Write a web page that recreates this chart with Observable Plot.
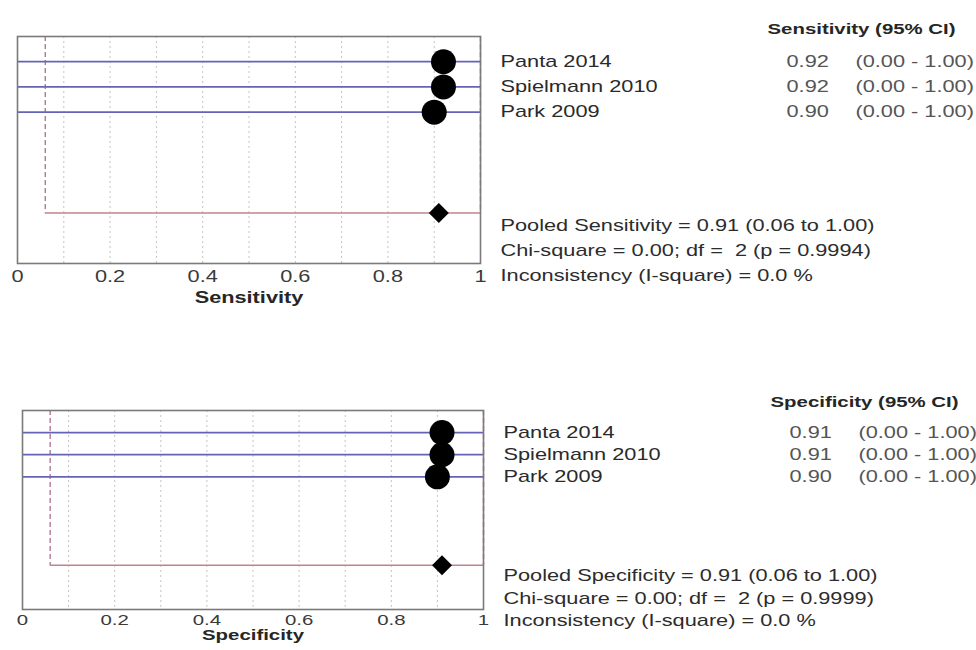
<!DOCTYPE html>
<html>
<head>
<meta charset="utf-8">
<script src="https://cdn.jsdelivr.net/npm/d3@7"></script>
<script src="https://cdn.jsdelivr.net/npm/@observablehq/plot@0.6"></script>
<style>
  html, body { margin: 0; padding: 0; background: #fff; }
  body { width: 976px; height: 650px; overflow: hidden; }
  #chart svg { display: block; }
  #chart svg text { white-space: pre; }
</style>
</head>
<body>
<div id="chart"></div>
<script>
// ---- data ----
const studies = ["Panta 2014", "Spielmann 2010", "Park 2009"];
const sensitivity = [0.92, 0.92, 0.90];
const sensitivityLow = [0.00, 0.00, 0.00];
const sensitivityHigh = [1.00, 1.00, 1.00];
const specificity = [0.91, 0.91, 0.90];
const specificityLow = [0.00, 0.00, 0.00];
const specificityHigh = [1.00, 1.00, 1.00];
// pooled: estimate, lower, upper
const pooledSensitivity = [0.91, 0.06, 1.00];
const pooledSpecificity = [0.91, 0.06, 1.00];
const sensitivityStats = [
  "Pooled Sensitivity = 0.91 (0.06 to 1.00)",
  "Chi-square = 0.00; df =  2 (p = 0.9994)",
  "Inconsistency (I-square) = 0.0 %"
];
const specificityStats = [
  "Pooled Specificity = 0.91 (0.06 to 1.00)",
  "Chi-square = 0.00; df =  2 (p = 0.9999)",
  "Inconsistency (I-square) = 0.0 %"
];
const xTicks = [0, 0.2, 0.4, 0.6, 0.8, 1];

const TEXT_STRETCH = 1.36;

function panel({est, lo, hi, pooled, stats, header, axisLabel, height, marginTop, marginBottom, marginLeft, marginRight, labelDy, headerDy, axisFont, tickPadding}) {
  const rows = studies.map((s, i) => ({study: s, est: est[i], lo: lo[i], hi: hi[i], row: i + 1}));
  const pooledRow = studies.length + 4;
  const p = {est: pooled[0], lo: pooled[1], hi: pooled[2], row: pooledRow};
  const statRows = stats.map((t, i) => ({text: t, row: pooledRow + 0.5 + i}));
  const yMax = pooledRow + 2;
  const grid = d3.ticks(0, 1, 10).filter(v => v > 0 && v < 1);

  const svg = Plot.plot({
    width: 976,
    height,
    marginTop, marginBottom, marginLeft, marginRight,
    style: {fontFamily: "'Liberation Sans', Arial, sans-serif", fontSize: axisFont + "px", color: "#3a3a3a", background: "#fff", overflow: "visible"},
    x: {domain: [0, 1], ticks: xTicks, tickFormat: d => String(d), tickSize: 0, tickPadding, label: null},
    y: {domain: [0, yMax], reverse: true, axis: null},
    marks: [
      Plot.ruleX(grid, {stroke: "#c4c4c4", strokeWidth: 1, strokeDasharray: "2,3"}),
      Plot.ruleX([p.lo, p.hi], {y1: 0, y2: pooledRow, stroke: "#b07898", strokeWidth: 1.4, strokeDasharray: "5,3"}),
      Plot.ruleY([p], {y: "row", x1: "lo", x2: "hi", stroke: "#c0848c", strokeWidth: 1.5}),
      Plot.ruleY(rows, {y: "row", x1: "lo", x2: "hi", stroke: "#6464b4", strokeWidth: 1.7}),
      Plot.dot(rows, {x: "est", y: "row", r: 12.5, fill: "#000", stroke: "none"}),
      Plot.dot([p], {x: "est", y: "row", r: 9, symbol: "diamond2", fill: "#000", stroke: "none"}),
      Plot.frame({stroke: "#7a7a7a", strokeWidth: 1.6}),
      Plot.text(rows, {y: "row", text: "study", frameAnchor: "right", dx: 20, textAnchor: "start", fontSize: 16, fill: "#2a2a2a"}),
      Plot.text(rows, {y: "row", text: d => d.est.toFixed(2), frameAnchor: "right", dx: 306, textAnchor: "start", fontSize: 16, fill: "#555"}),
      Plot.text(rows, {y: "row", text: d => `(${d.lo.toFixed(2)} - ${d.hi.toFixed(2)})`, frameAnchor: "right", dx: 375, textAnchor: "start", fontSize: 16, fill: "#555"}),
      Plot.text([header], {frameAnchor: "top-right", dx: 287, dy: headerDy, textAnchor: "start", fontWeight: "bold", fontSize: 15, fill: "#262626"}),
      Plot.text(statRows, {y: "row", text: "text", frameAnchor: "right", dx: 20, textAnchor: "start", fontSize: 16, fill: "#2c2c2c"}),
      Plot.text([axisLabel], {frameAnchor: "bottom", dy: labelDy, fontWeight: "bold", fontSize: axisFont, fill: "#262626"})
    ]
  });

  svg.querySelectorAll("text").forEach(t => {
    const tr = t.getAttribute("transform") || "";
    if (tr.includes("rotate")) return;
    t.setAttribute("transform", (tr + ` scale(${TEXT_STRETCH},1)`).trim());
  });
  return svg;
}

const chart = document.getElementById("chart");
chart.appendChild(panel({
  est: sensitivity, lo: sensitivityLow, hi: sensitivityHigh, pooled: pooledSensitivity,
  stats: sensitivityStats, header: "Sensitivity (95% CI)", axisLabel: "Sensitivity",
  height: 325, marginTop: 36, marginBottom: 62, marginLeft: 17, marginRight: 496,
  labelDy: 39, headerDy: -13, axisFont: 16, tickPadding: 7
}));
chart.appendChild(panel({
  est: specificity, lo: specificityLow, hi: specificityHigh, pooled: pooledSpecificity,
  stats: specificityStats, header: "Specificity (95% CI)", axisLabel: "Specificity",
  height: 325, marginTop: 85, marginBottom: 41, marginLeft: 22, marginRight: 493,
  labelDy: 30, headerDy: -14, axisFont: 15, tickPadding: 5
}));
</script>
</body>
</html>
